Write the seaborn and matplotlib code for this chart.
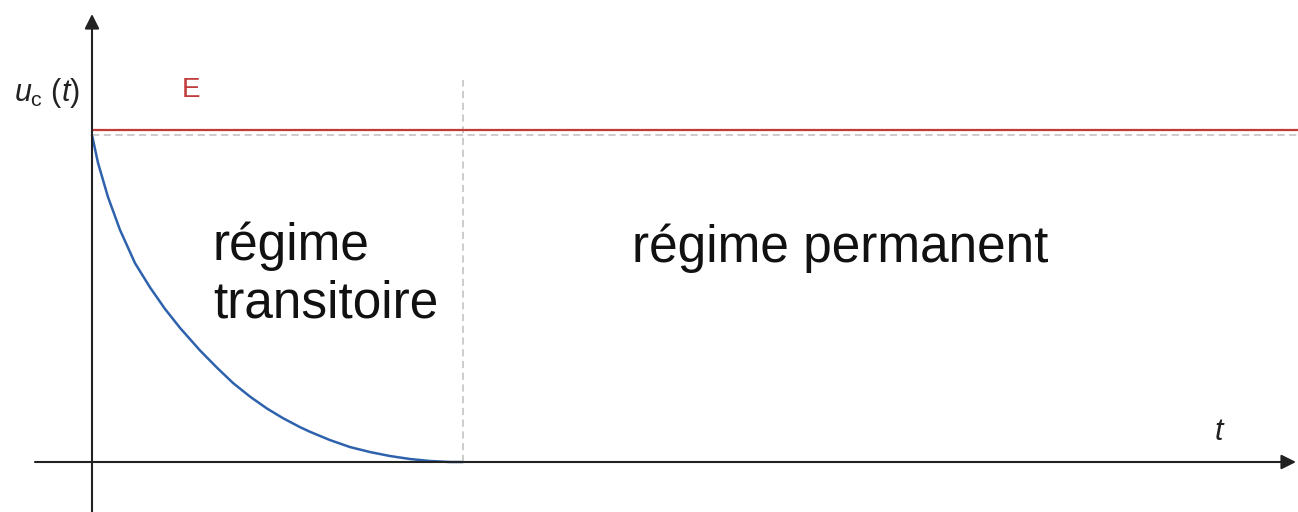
import numpy as np
import pandas as pd
import matplotlib
matplotlib.use("Agg")
import matplotlib.pyplot as plt
import seaborn as sns

# valeurs (t en unités arbitraires, u normalisé par E)
t_vals = [0, 6, 16, 28, 43, 58, 73, 88, 108, 125, 141, 158, 175, 191, 208,
          218, 238, 258, 278, 298, 318, 338, 358, 371]
u_vals = [0.985, 0.901, 0.798, 0.699, 0.599, 0.526, 0.461, 0.404, 0.336, 0.284,
          0.238, 0.197, 0.161, 0.132, 0.105, 0.091, 0.066, 0.045, 0.030, 0.018,
          0.009, 0.003, 0.0, 0.0]
E_level = 1.0
E_dash = 0.985
t_switch = 371
labels = ["régime\ntransitoire", "régime permanent"]

sns.set_theme(style="white")
plt.rcParams['font.family'] = ['Liberation Sans', 'DejaVu Sans']
plt.rcParams['mathtext.fontset'] = 'custom'
plt.rcParams['mathtext.rm'] = 'Liberation Sans'
plt.rcParams['mathtext.it'] = 'Liberation Sans:italic'

fig = plt.figure(figsize=(12.98, 5.12), dpi=100)
ax = fig.add_axes([0, 0, 1, 1])
ax.set_xlim(-92, 1206)
ax.set_ylim(-50 / 332, 462 / 332)
ax.axis('off')

df = pd.DataFrame({'t': t_vals, 'u': u_vals})
sns.lineplot(data=df, x='t', y='u', ax=ax, color='#2f62ad', lw=1.8, sort=False)

# niveaux E
ax.plot([0, 1206], [E_level, E_level], color='#c23b3b', lw=1.6, zorder=3)
ax.plot([0, 1206], [E_dash, E_dash], color='#c8c8c8', lw=1.3, ls=(0, (4, 2.5)), zorder=2)
ax.plot([t_switch, t_switch], [0, 382 / 332], color='#c8c8c8', lw=1.3, ls=(0, (4, 2.5)), zorder=2)

# axes avec flèches
arrow = dict(arrowstyle='-|>', color='#222222', lw=1.5, mutation_scale=22, shrinkA=0, shrinkB=0)
ax.annotate('', xy=(1204, 0), xytext=(-57, 0), arrowprops=arrow)
ax.annotate('', xy=(0, 448 / 332), xytext=(0, -50 / 332), arrowprops=arrow)

# textes
ax.text(99, 372 / 332, 'E', color='#c23b3b', fontsize=20, ha='center', va='center')
ax.text(-45, 369 / 332, r'$u_{\mathrm{c}}\ (t)$', color='#222222', fontsize=22,
        ha='center', va='center')
ax.text(1128, 30 / 332, r'$t$', color='#222222', fontsize=22, ha='center', va='center')
ax.text(121, 187 / 332, labels[0], color='#111111', fontsize=37, ha='left', va='center',
        linespacing=1.2)
ax.text(540, 214 / 332, labels[1], color='#111111', fontsize=37, ha='left', va='center')

fig.savefig('out.png', dpi=100)
